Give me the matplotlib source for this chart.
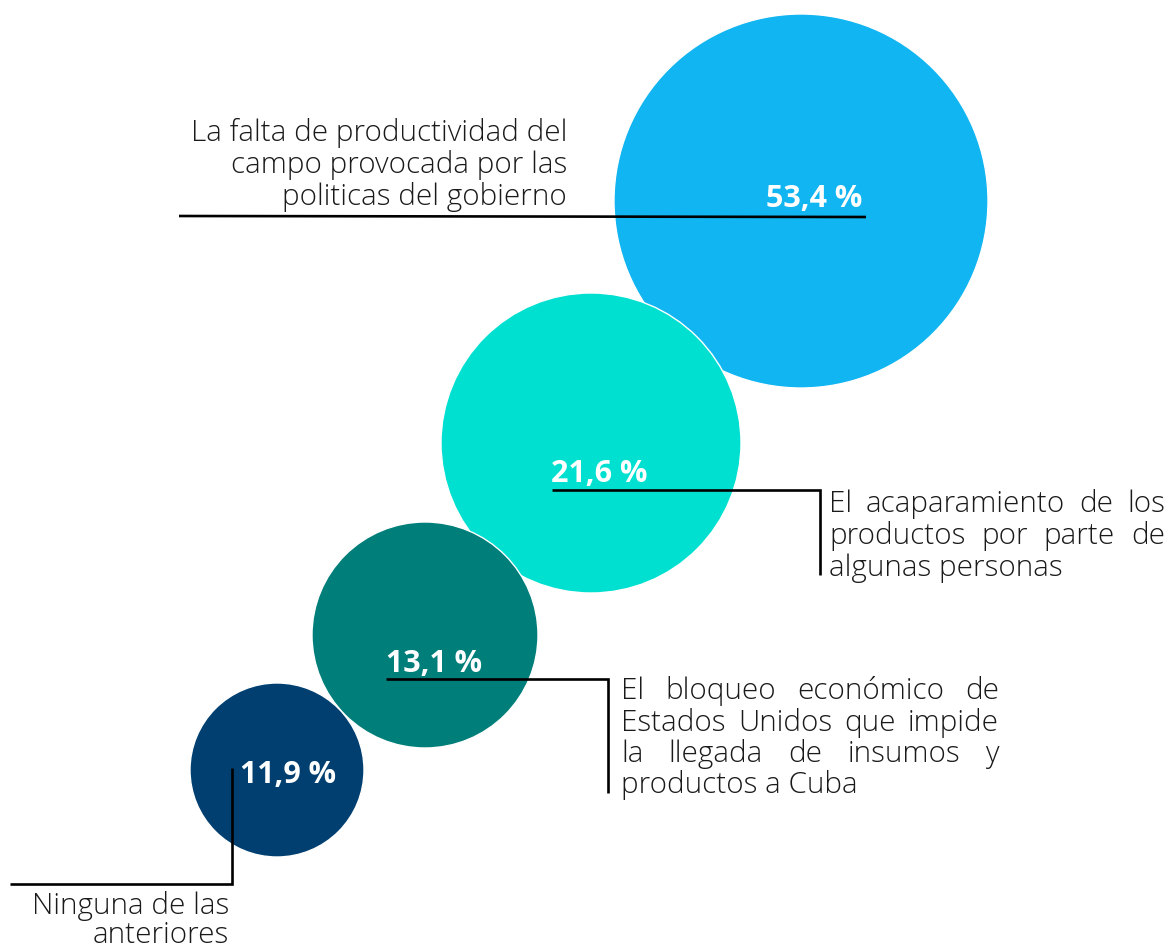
import matplotlib
matplotlib.use("Agg")
import matplotlib.pyplot as plt
from matplotlib.patches import Circle

# ---- data ----
values = [53.4, 21.6, 13.1, 11.9]
categories = [
    "La falta de productividad del campo provocada por las politicas del gobierno",
    "El acaparamiento de los productos por parte de algunas personas",
    "El bloqueo económico de Estados Unidos que impide la llegada de insumos y productos a Cuba",
    "Ninguna de las anteriores",
]
label_lines = [
    ["La falta de productividad del", "campo provocada por las", "politicas del gobierno"],
    ["El acaparamiento de los", "productos por parte de", "algunas personas"],
    ["El bloqueo económico de", "Estados Unidos que impide", "la llegada de insumos y", "productos a Cuba"],
    ["Ninguna de las", "anteriores"],
]
colors = ["#10B5F1", "#00E0D1", "#007E7A", "#003F6F"]

# ---- layout (pixels) ----
W, H = 1171, 949
centers = [(801, 201), (591, 443), (425, 635), (277, 770)]
radii = [187, 150, 113, 87]
pct_pos = [(862, 207, "right"), (551, 482, "left"), (386, 672, "left"), (240, 783, "left")]
leaders = [
    [(179, 216), (866, 217)],
    [(552, 490), (820, 490), (820, 575)],
    [(386, 679), (608, 679), (608, 793)],
    [(232, 768), (232, 884), (10, 884)],
]
# (mode, x0, x1, baselines)
text_layout = [
    ("right", None, 567, [141, 173, 205]),
    ("justify", 829, 1165, [512, 544, 576]),
    ("justify", 621, 999, [699, 731, 762, 793]),
    ("right", None, 229, [914, 943]),
]

fig = plt.figure(figsize=(W / 100, H / 100), dpi=100)
ax = fig.add_axes([0, 0, 1, 1])
ax.set_xlim(0, W)
ax.set_ylim(H, 0)
ax.axis("off")

for i, (v, c, (cx, cy), r) in enumerate(zip(values, colors, centers, radii)):
    ax.add_patch(Circle((cx, cy), r, facecolor=c, edgecolor="white", lw=1.0, zorder=1 + i))

for v, (x, y, ha) in zip(values, pct_pos):
    s = f"{v:.1f}".replace(".", ",") + " %"
    ax.text(x, y, s, ha=ha, va="baseline", color="white", fontsize=22,
            fontweight="bold", family="Open Sans", zorder=10)

for pts in leaders:
    xs = [p[0] for p in pts]
    ys = [p[1] for p in pts]
    ax.plot(xs, ys, color="black", lw=1.9, solid_capstyle="butt",
            solid_joinstyle="miter", zorder=9)

renderer = fig.canvas.get_renderer()
body = dict(fontsize=19.5, family="Open Sans", fontweight="light", color="#1a1a1a", zorder=10)


def text_width(s):
    t = ax.text(0, 0, s, **body)
    w = t.get_window_extent(renderer).width
    t.remove()
    return w


# scale body font so the first label line nearly spans its reference width
ref_w = (567 - 179) * 0.97
body["fontsize"] = body["fontsize"] * ref_w / text_width(label_lines[0][0])

for lines, (mode, x0, x1, bls) in zip(label_lines, text_layout):
    for i, (line, y) in enumerate(zip(lines, bls)):
        if mode == "right":
            ax.text(x1, y, line, ha="right", va="baseline", **body)
        else:
            words = line.split()
            if i == len(lines) - 1 or len(words) < 2:
                ax.text(x0, y, line, ha="left", va="baseline", **body)
                continue
            ws = [text_width(w) for w in words]
            gap = (x1 - x0 - sum(ws)) / (len(words) - 1)
            x = x0
            for w, wd in zip(words, ws):
                ax.text(x, y, w, ha="left", va="baseline", **body)
                x += wd + gap

fig.savefig("out.png", dpi=100, facecolor="white")
